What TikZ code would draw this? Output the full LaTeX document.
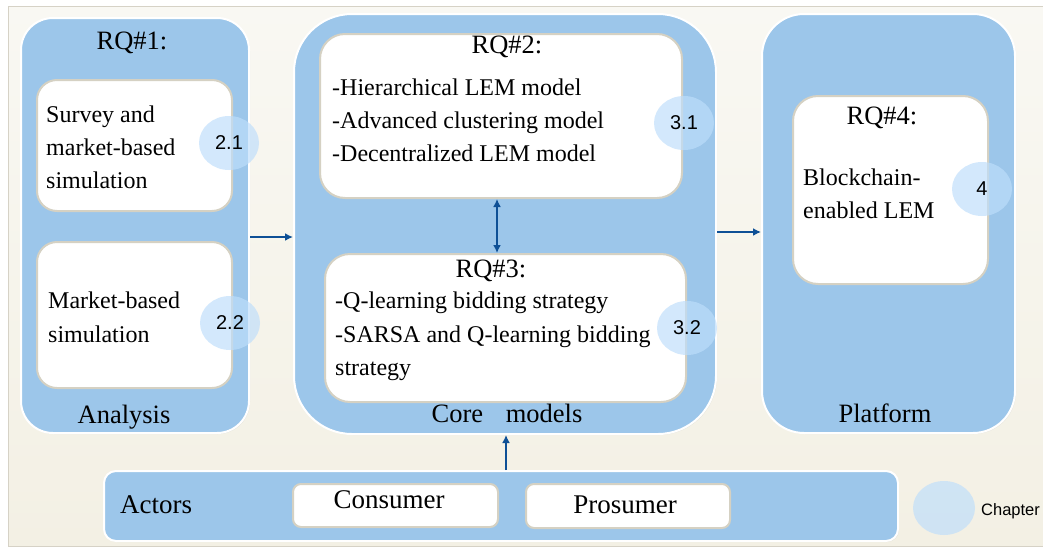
\documentclass[tikz,border=0pt]{standalone}
\usepackage{fontspec}
\setmainfont{Liberation Serif}
\newfontfamily\numfont{Liberation Sans}
\usetikzlibrary{arrows.meta,shapes.geometric,shadows}

\definecolor{panelblue}{HTML}{9CC6EA}
\definecolor{boxedge}{HTML}{D5D1C3}
\definecolor{arrowblue}{HTML}{0E5096}
\definecolor{bgcream}{HTML}{F3F0E4}
\definecolor{bglight}{HTML}{F9F8F3}
\definecolor{framegray}{HTML}{D6D2C6}
\definecolor{chapblue}{RGB}{190,222,251}

\begin{document}
\begin{tikzpicture}[x=1pt,y=-1pt,
  panel/.style={draw=white, line width=2pt, fill=panelblue, anchor=north west,
    inner sep=0pt, drop shadow={opacity=0.12, shadow xshift=1pt, shadow yshift=-1pt}},
  inbox/.style={draw=boxedge, line width=2pt, fill=white, anchor=north west,
    inner sep=0pt, rounded corners=20pt},
  chap/.style={ellipse, fill=chapblue, fill opacity=0.67, text opacity=1,
    minimum width=60pt, minimum height=54pt, inner sep=0pt,
    font=\numfont\fontsize{20}{20}\selectfont},
  txt/.style={anchor=base west, inner sep=0pt, font=\fontsize{24}{24}\selectfont},
  ttl/.style={anchor=base, inner sep=0pt, font=\fontsize{26.5}{26.5}\selectfont},
  act/.style={anchor=base, inner sep=0pt, font=\fontsize{27}{27}\selectfont},
  arr/.style={draw=arrowblue, line width=2.8pt, >={Latex[length=8pt,width=8pt]}}
]
\useasboundingbox (0,0) rectangle (1043,549);

% page background and frame
\fill[white] (0,0) rectangle (1043,549);
\shade[top color=bglight, bottom color=bgcream, draw=framegray, line width=1pt]
  (8,6) rectangle (1052,546);

% main panels
\node[panel, rounded corners=32pt, minimum width=228pt, minimum height=415pt] (ana) at (20,17) {};
\node[panel, rounded corners=58pt, minimum width=422pt, minimum height=420pt] (core) at (293,13) {};
\node[panel, rounded corners=42pt, minimum width=253pt, minimum height=419pt] (plat) at (761,13) {};
\node[panel, rounded corners=12pt, minimum width=794pt, minimum height=70pt] (actp) at (103,470) {};

% inner boxes
\node[inbox, minimum width=195pt, minimum height=131pt] (s1) at (36,79) {};
\node[inbox, minimum width=195pt, minimum height=146pt] (s2) at (36,241) {};
\node[inbox, rounded corners=25pt, minimum width=362pt, minimum height=164pt] (rq2) at (319,33) {};
\node[inbox, rounded corners=25pt, minimum width=361pt, minimum height=148pt] (rq3) at (324,253) {};
\node[inbox, rounded corners=25pt, minimum width=195pt, minimum height=188pt] (rq4) at (792,95) {};
\node[inbox, rounded corners=8pt, minimum width=205pt, minimum height=43pt] (cons) at (292,483) {};
\node[inbox, rounded corners=8pt, minimum width=204pt, minimum height=44pt] (pros) at (525,483) {};

% analysis texts
\node[ttl] (t1) at (132,49) {RQ\#1:};
\node[txt] (a11) at (46,122) {Survey and};
\node[txt] (a12) at (46,155) {market-based};
\node[txt] (a13) at (46,188) {simulation};
\node[txt] (a21) at (48,308) {Market-based};
\node[txt] (a22) at (48,342) {simulation};
\node[ttl] (l1) at (124,423) {Analysis};

% core model texts
\node[ttl] (t2) at (507,53) {RQ\#2:};
\node[txt] (b1) at (332,95) {-Hierarchical LEM model};
\node[txt] (b2) at (332,128) {-Advanced clustering model};
\node[txt] (b3) at (332,161) {-Decentralized LEM model};
\node[ttl] (t3) at (491,277) {RQ\#3:};
\node[txt] (c1) at (335,308) {-Q-learning bidding strategy};
\node[txt] (c2) at (335,342) {-SARSA and Q-learning bidding};
\node[txt] (c3) at (335,375) {strategy};
\node[ttl] (l2) at (507,422) {Core\hspace{0.6em} models};

% platform texts
\node[ttl] (t4) at (882,124) {RQ\#4:};
\node[txt] (d1) at (803,185) {Blockchain-};
\node[txt] (d2) at (803,218) {enabled LEM};
\node[ttl] (l3) at (885,422) {Platform};

% actors texts
\node[act, anchor=base west] (l4) at (120,513) {Actors};
\node[act] (consT) at (389,508) {Consumer};
\node[act] (prosT) at (625,513) {Prosumer};

% chapter markers
\node[chap] (c21) at (229,143) {2.1};
\node[chap] (c22) at (230,323) {2.2};
\node[chap] (c31) at (684,123) {3.1};
\node[chap] (c32) at (687,328) {3.2};
\node[chap] (c4) at (982,189) {4};
\node[chap, minimum width=62pt] (leg) at (944,508) {};
\node[anchor=base west, inner sep=0pt, font=\numfont\fontsize{16.5}{16.5}\selectfont] (legT) at (981,515) {Chapter};

% connectors
\draw[arr,->] ([yshift=-11.5pt]ana.east) -- ([yshift=-13pt]core.west);
\draw[arr,->] ([yshift=-8pt]core.east) -- ([yshift=-8.5pt]plat.west);
\draw[arr,<->] ([xshift=-4pt]rq2.south) -- ([xshift=-8.5pt]rq3.north);
\draw[arr,->] ([xshift=5pt]actp.north) -- ([xshift=1pt]core.south);
\end{tikzpicture}
\end{document}
